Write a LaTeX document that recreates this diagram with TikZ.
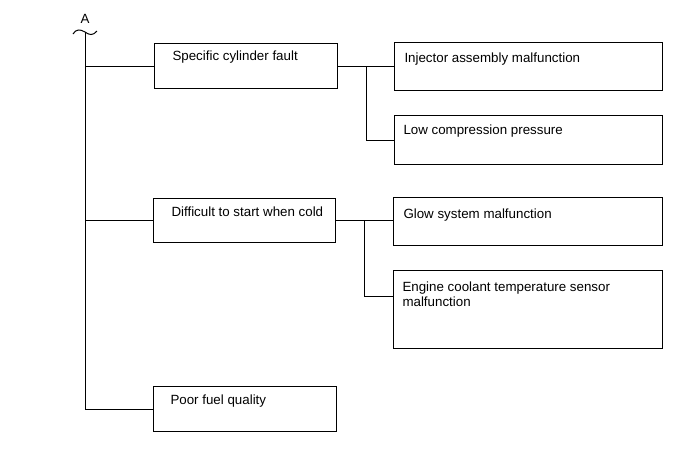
\documentclass[tikz,border=0pt]{standalone}
\usepackage{fontspec}
\setmainfont{Liberation Sans}
\usetikzlibrary{calc}
\begin{document}
\begin{tikzpicture}[x=0.75pt,y=-0.75pt,line width=0.75pt,
  box/.style={draw, inner sep=0pt, anchor=north west},
  lbl/.style={anchor=base west, inner sep=0pt, font=\fontsize{10}{15}\selectfont}]
\useasboundingbox (0,0) rectangle (690,465);
% boxes
\node[box, minimum width=137.25pt, minimum height=33.75pt] (S1) at (154,43) {};
\node[box, minimum width=136.5pt, minimum height=33pt] (S2) at (153,198) {};
\node[box, minimum width=137.25pt, minimum height=33.75pt] (S3) at (153,386) {};
\node[box, minimum width=201pt, minimum height=36pt] (R1) at (394,42) {};
\node[box, minimum width=201pt, minimum height=36.75pt] (R2) at (394,115) {};
\node[box, minimum width=201.75pt, minimum height=36pt] (R3) at (393,197) {};
\node[box, minimum width=201.75pt, minimum height=58.5pt] (R4) at (393,270) {};
% texts
\node[lbl] (tS1) at (172,60.5) {Specific cylinder fault};
\node[lbl] (tS2) at (171,216) {Difficult to start when cold};
\node[lbl] (tS3) at (170,404.5) {Poor fuel quality};
\node[lbl] (tR1) at (404,62) {Injector assembly malfunction};
\node[lbl] (tR2) at (403,134) {Low compression pressure};
\node[lbl] (tR3) at (403,218.5) {Glow system malfunction};
\node[lbl] (tR4a) at (402,291) {Engine coolant temperature sensor};
\node[lbl] (tR4b) at (402,306) {malfunction};
\node[anchor=base, inner sep=0pt, font=\fontsize{10}{12}\selectfont] (A) at (85,23) {A};
% break mark and trunk
\draw (73,34) .. controls (76,29) and (80,29) .. (85,32) .. controls (89,35) and (93,36) .. (97,31);
\coordinate (top) at (85,32);
\draw (top) |- (S3.west);
\draw (S1.west) -- (S1.west -| top);
\draw (S2.west) -- (S2.west -| top);
% right branches
\coordinate (b1) at ($(S1.east)!0.5!(S1.east -| R1.west)$);
\draw (S1.east) -- (S1.east -| R1.west);
\draw (b1) |- (R2.west);
\coordinate (b2) at ($(S2.east)!0.5!(S2.east -| R3.west)$);
\coordinate (e4) at ($(R4.north west)+(0,26)$);
\draw (S2.east) -- (S2.east -| R3.west);
\draw (b2) |- (e4);
\end{tikzpicture}
\end{document}
